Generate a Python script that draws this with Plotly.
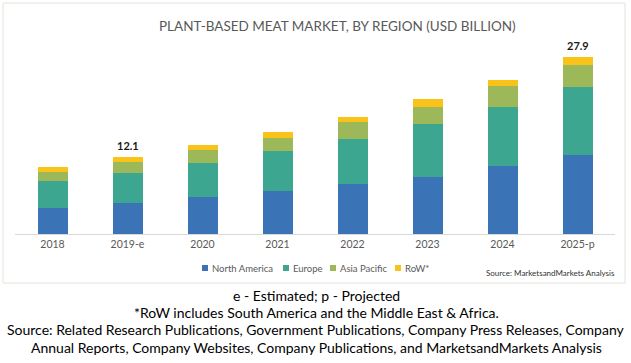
import plotly.graph_objects as go

W, H = 631, 363

years = ["2018", "2019-e", "2020", "2021", "2022", "2023", "2024", "2025-p"]
north_america = [4.14, 4.93, 5.75, 6.76, 7.81, 9.01, 10.64, 12.35]
europe = [4.20, 4.68, 5.35, 6.23, 7.12, 8.29, 9.37, 10.75]
asia_pacific = [1.42, 1.74, 2.04, 2.11, 2.63, 2.72, 3.30, 3.55]
row = [0.83, 0.75, 0.79, 0.88, 0.79, 1.16, 0.94, 1.25]
labeled = {"2019-e": "12.1", "2025-p": "27.9"}

series_names = ["North America", "Europe", "Asia Pacific", "RoW*"]
series_values = [north_america, europe, asia_pacific, row]
series_colors = ["#3a73b6", "#3ca690", "#9db859", "#f9c31a"]

FONT = "Lato, 'Open Sans', sans-serif"


def py(p):
    return (H - p) / H


def px_(x):
    return x / W


fig = go.Figure()
for name, vals, col in zip(series_names, series_values, series_colors):
    fig.add_trace(go.Bar(x=years, y=vals, name=name, marker=dict(color=col, line=dict(width=0)),
                         hoverinfo="x+y+name", showlegend=False))

totals = [a + b + c + d for a, b, c, d in zip(*series_values)]
annotations = []
shapes = []
for yr, tot in zip(years, totals):
    if yr in labeled:
        annotations.append(dict(x=yr, y=tot, xref="x", yref="y", text="<b>%s</b>" % labeled[yr],
                                showarrow=False, yanchor="bottom", yshift=3,
                                font=dict(family=FONT, size=11, color="#1a1a1a")))

annotations.append(dict(x=px_(337), y=py(26), xref="paper", yref="paper",
                        text="PLANT-BASED MEAT MARKET, BY REGION (USD BILLION)", showarrow=False,
                        xanchor="center", yanchor="middle",
                        font=dict(family=FONT, size=13.5, color="#595959")))
annotations.append(dict(x=px_(617), y=py(273), xref="paper", yref="paper",
                        text="Source: MarketsandMarkets Analysis", showarrow=False,
                        xanchor="right", yanchor="middle",
                        font=dict(family=FONT, size=8, color="#333333")))

# legend (drawn as small squares + labels)
legend_x = [202, 283, 330, 395]
for name, col, lx in zip(series_names, series_colors, legend_x):
    shapes.append(dict(type="rect", xref="paper", yref="paper", x0=px_(lx), x1=px_(lx + 6),
                       y0=py(271), y1=py(265), fillcolor=col, line=dict(width=0)))
    annotations.append(dict(x=px_(lx + 8), y=py(268), xref="paper", yref="paper", text=name,
                            showarrow=False, xanchor="left", yanchor="middle",
                            font=dict(family=FONT, size=9.5, color="#595959")))

notes = [
    ("e - Estimated; p - Projected", 295),
    ("*RoW includes South America and the Middle East &amp; Africa.", 312),
    ("Source: Related Research Publications, Government Publications, Company Press Releases, Company", 329),
    ("Annual Reports, Company Websites, Company Publications, and MarketsandMarkets Analysis", 347),
]
for txt, yy in notes:
    annotations.append(dict(x=px_(316), y=py(yy), xref="paper", yref="paper", text=txt,
                            showarrow=False, xanchor="center", yanchor="middle",
                            font=dict(family=FONT, size=14, color="#000000")))

shapes.append(dict(type="rect", xref="paper", yref="paper", x0=px_(3), x1=px_(625),
                   y0=py(283), y1=py(3), line=dict(color="#e4e4da", width=1), layer="below"))

fig.update_layout(
    width=W, height=H,
    margin=dict(l=0, r=0, t=0, b=0),
    paper_bgcolor="white", plot_bgcolor="white",
    barmode="stack", bargap=0.6,
    showlegend=False,
    xaxis=dict(domain=[px_(15), px_(615)], showline=True, linecolor="#d9d9d9", linewidth=1,
               ticks="", showgrid=False, zeroline=False,
               tickfont=dict(family=FONT, size=10.5, color="#595959")),
    yaxis=dict(domain=[py(234), py(40)], range=[0, 194 / 6.36], visible=False,
               showgrid=False, zeroline=False),
    annotations=annotations,
    shapes=shapes,
    font=dict(family=FONT),
)

fig.write_html("out.html", config={"displayModeBar": False},
               post_script="document.body.style.margin='0';")
